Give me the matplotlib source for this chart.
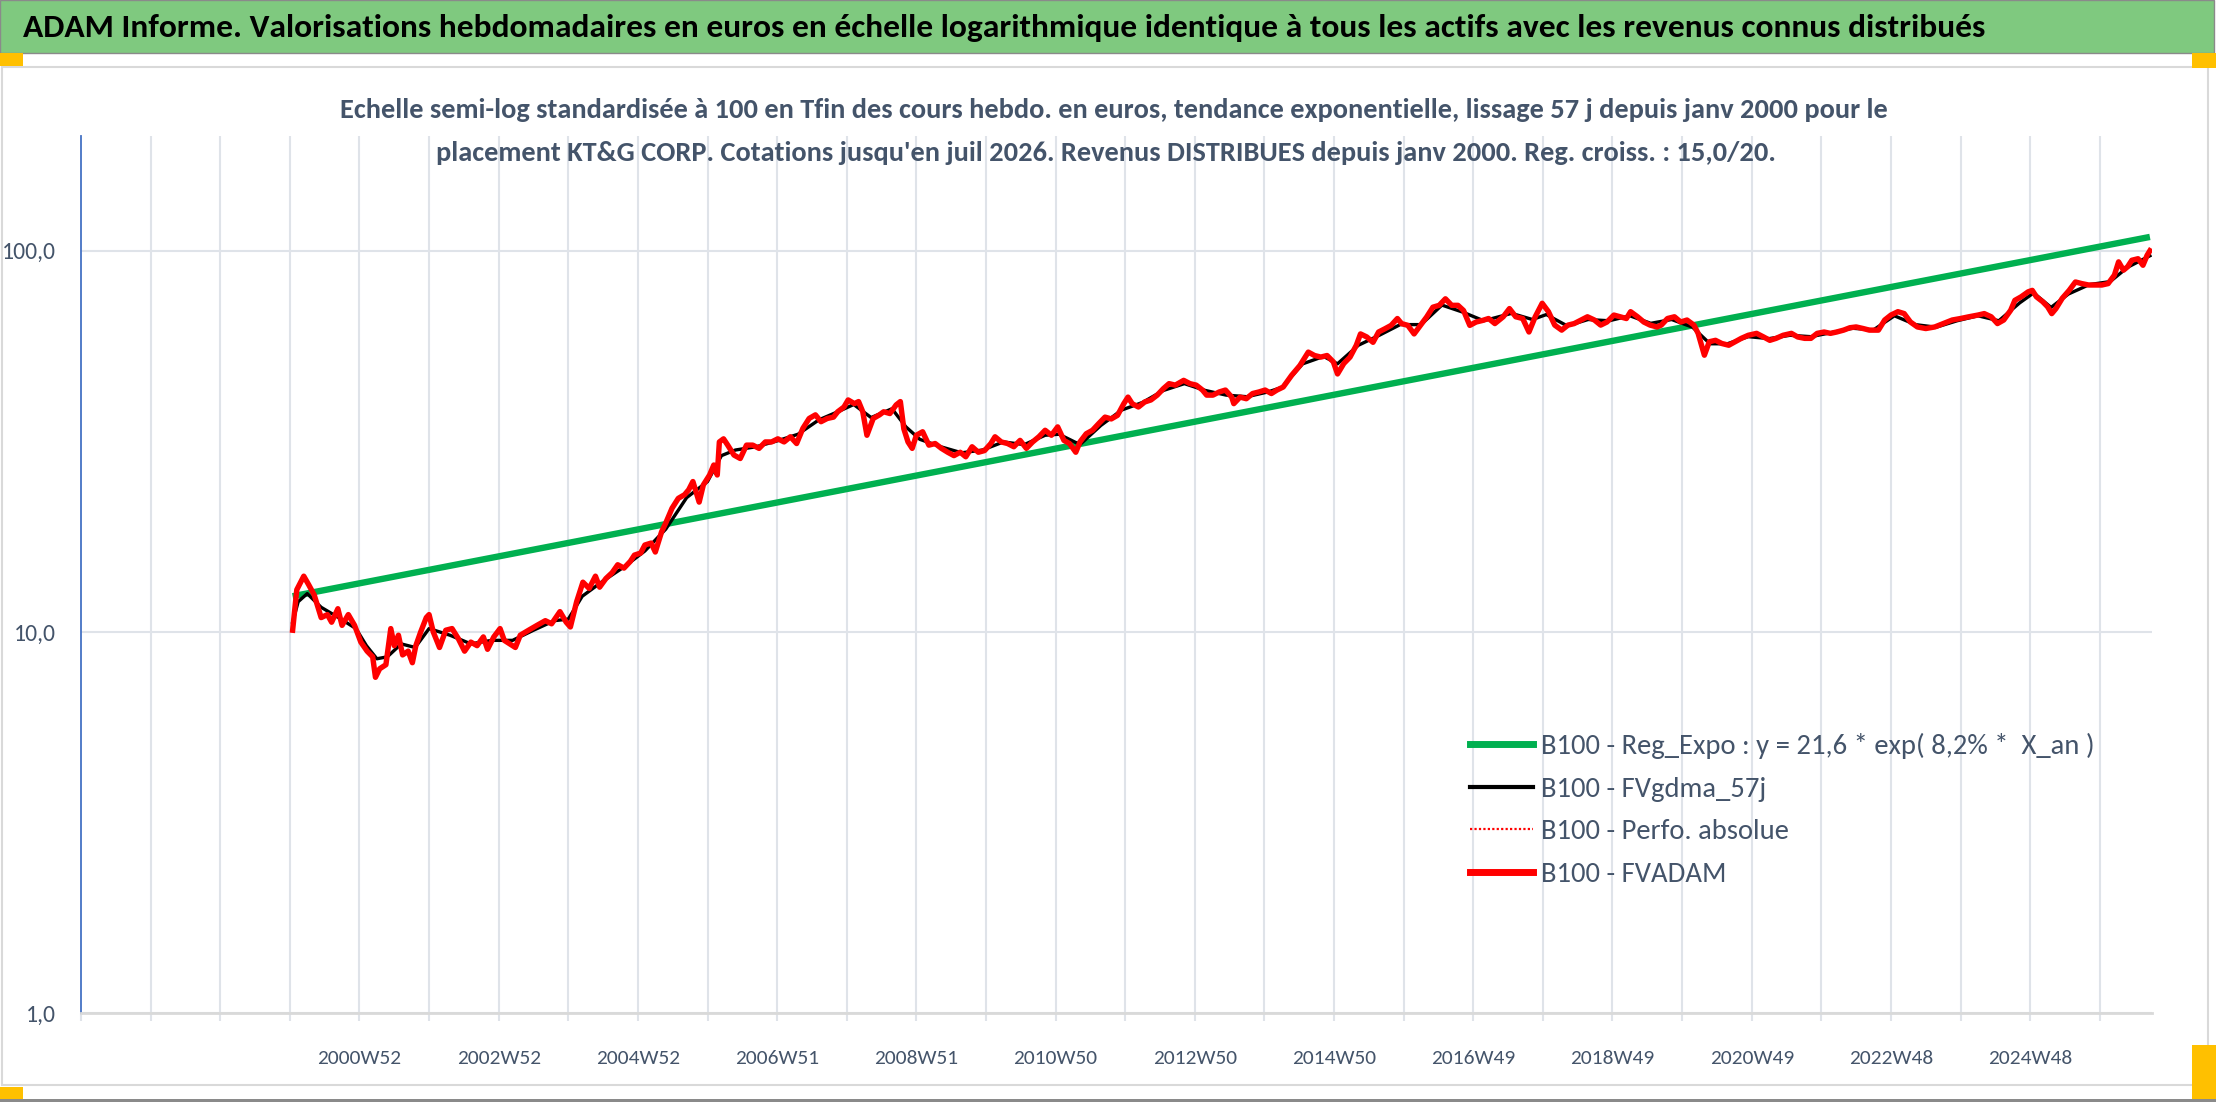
import matplotlib
matplotlib.use("Agg")
import matplotlib.pyplot as plt
from matplotlib.patches import Rectangle
from matplotlib.lines import Line2D
from matplotlib.ticker import NullLocator
from matplotlib import font_manager

_avail = {f.name for f in font_manager.fontManager.ttflist}
_pref = ['Carlito', 'Liberation Sans Narrow', 'Roboto Condensed', 'Open Sans Condensed', 'Lato', 'DejaVu Sans']
FONT = next(f for f in _pref if f in _avail or f == 'DejaVu Sans')
plt.rcParams['font.family'] = [FONT, 'DejaVu Sans']

# ---------------- data ----------------
title_text = ("ADAM Informe. Valorisations hebdomadaires en euros en échelle logarithmique "
              "identique à tous les actifs avec les revenus connus distribués")
subtitle_1 = ("Echelle semi-log standardisée à 100 en Tfin des cours hebdo. en euros, tendance "
              "exponentielle, lissage 57 j depuis janv 2000 pour le")
subtitle_2 = ("placement KT&G CORP. Cotations jusqu'en juil 2026. Revenus DISTRIBUES depuis "
              "janv 2000. Reg. croiss. : 15,0/20.")

legend_labels = ["B100 - Reg_Expo : y = 21,6 * exp( 8,2% *  X_an )",
                 "B100 - FVgdma_57j",
                 "B100 - Perfo. absolue",
                 "B100 - FVADAM"]

x_tick_pos = [2001, 2003, 2005, 2007, 2009, 2011, 2013, 2015, 2017, 2019, 2021, 2023, 2025]
x_tick_labels = ["2000W52", "2002W52", "2004W52", "2006W51", "2008W51", "2010W50",
                 "2012W50", "2014W50", "2016W49", "2018W49", "2020W49", "2022W48", "2024W48"]
y_ticks = [1, 10, 100]
y_tick_labels = ["1,0", "10,0", "100,0"]

# regression line (exponential trend) end points
reg_x = [2000.04, 2026.72]
reg_y = [12.4, 108.7]

# FVADAM (red)
red_x = [2000.04, 2000.10, 2000.20, 2000.27, 2000.35, 2000.41, 2000.45, 2000.54, 2000.60, 2000.69,
         2000.75, 2000.84, 2000.93, 2001.02, 2001.11, 2001.19, 2001.23, 2001.29, 2001.38, 2001.45,
         2001.50, 2001.56, 2001.62, 2001.70, 2001.76, 2001.81, 2001.88, 2001.96, 2002.00, 2002.06,
         2002.15, 2002.24, 2002.33, 2002.42, 2002.51, 2002.60, 2002.69, 2002.78, 2002.84, 2002.93,
         2003.02, 2003.08, 2003.16, 2003.24, 2003.31, 2003.43, 2003.55, 2003.67, 2003.76, 2003.88,
         2003.97, 2004.03, 2004.12, 2004.21, 2004.30, 2004.39, 2004.45, 2004.54, 2004.63, 2004.71,
         2004.80, 2004.89, 2004.95, 2005.04, 2005.10, 2005.19, 2005.25, 2005.34, 2005.40, 2005.49,
         2005.58, 2005.67, 2005.73, 2005.79, 2005.88, 2005.94, 2006.03, 2006.09, 2006.14, 2006.17,
         2006.23, 2006.29, 2006.38, 2006.47, 2006.56, 2006.65, 2006.74, 2006.83, 2006.92, 2007.01,
         2007.10, 2007.19, 2007.28, 2007.37, 2007.46, 2007.55, 2007.63, 2007.72, 2007.81, 2007.87,
         2007.96, 2008.02, 2008.11, 2008.17, 2008.23, 2008.29, 2008.38, 2008.47, 2008.53, 2008.62,
         2008.71, 2008.77,
         2008.82, 2008.88, 2008.94, 2009.00, 2009.09, 2009.18, 2009.27, 2009.36, 2009.45, 2009.54,
         2009.63, 2009.71, 2009.80, 2009.89, 2009.98, 2010.07, 2010.13, 2010.22, 2010.31, 2010.40,
         2010.49, 2010.58, 2010.67, 2010.76, 2010.85, 2010.94, 2011.03, 2011.12, 2011.20, 2011.29,
         2011.35, 2011.44, 2011.53, 2011.62, 2011.71, 2011.80, 2011.89, 2011.98, 2012.04, 2012.10,
         2012.19, 2012.28, 2012.37, 2012.46, 2012.55, 2012.63, 2012.72, 2012.84, 2012.93, 2013.02,
         2013.11, 2013.17, 2013.26, 2013.35, 2013.44, 2013.53, 2013.56, 2013.65, 2013.74, 2013.83,
         2013.92, 2014.01, 2014.10, 2014.18, 2014.27, 2014.39, 2014.51, 2014.63, 2014.72, 2014.81,
         2014.90, 2014.99, 2015.05, 2015.14, 2015.23, 2015.32, 2015.38, 2015.47, 2015.56, 2015.64,
         2015.73, 2015.82, 2015.91, 2015.97, 2016.06, 2016.15, 2016.24, 2016.33, 2016.42, 2016.51,
         2016.60, 2016.69, 2016.78, 2016.86, 2016.95, 2017.04, 2017.13, 2017.22, 2017.31,
         2017.43, 2017.52, 2017.61, 2017.71, 2017.80, 2017.89, 2017.99, 2018.08, 2018.17, 2018.27,
         2018.36, 2018.45, 2018.55, 2018.64, 2018.74, 2018.83, 2018.92, 2019.02, 2019.11, 2019.20,
         2019.26, 2019.36, 2019.45, 2019.54, 2019.64, 2019.70, 2019.79, 2019.89, 2019.98, 2020.07,
         2020.17, 2020.23, 2020.29, 2020.32, 2020.39, 2020.48, 2020.57, 2020.67, 2020.76, 2020.85,
         2020.95, 2021.07, 2021.17, 2021.26, 2021.35, 2021.45, 2021.57, 2021.66, 2021.76, 2021.85,
         2021.94, 2022.04, 2022.13, 2022.22, 2022.32, 2022.41, 2022.50, 2022.60, 2022.69, 2022.82,
         2022.91, 2023.00, 2023.10, 2023.19, 2023.28, 2023.38, 2023.50, 2023.63, 2023.75, 2023.88,
         2024.00, 2024.12, 2024.25, 2024.34, 2024.44, 2024.53, 2024.62, 2024.72, 2024.78, 2024.87,
         2024.97, 2025.03, 2025.09, 2025.18, 2025.25, 2025.31, 2025.37, 2025.46, 2025.56, 2025.65,
         2025.74, 2025.84, 2025.93, 2026.03, 2026.12, 2026.21, 2026.27, 2026.34, 2026.40, 2026.46,
         2026.55, 2026.62, 2026.68, 2026.72]
red_y = [10.1, 12.9, 14.0, 13.3, 12.5, 11.5, 10.9, 11.1, 10.6, 11.5,
         10.4, 11.1, 10.4, 9.4, 8.9, 8.6, 7.6, 8.0, 8.2, 10.2,
         9.2, 9.8, 8.7, 8.9, 8.3, 9.2, 10.0, 10.9, 11.1, 10.0,
         9.1, 10.1, 10.2, 9.6, 8.9, 9.4, 9.2, 9.7, 9.0, 9.7,
         10.2, 9.5, 9.3, 9.1, 9.8, 10.1, 10.4, 10.7, 10.5, 11.3,
         10.6, 10.3, 12.0, 13.5, 13.0, 14.0, 13.1, 13.8, 14.3, 15.0,
         14.7, 15.3, 15.9, 16.1, 16.9, 17.1, 16.2, 18.3, 19.3, 21.1,
         22.4, 22.9, 23.6, 24.8, 21.9, 24.3, 25.8, 27.4, 25.8, 31.5,
         32.1, 30.9, 29.1, 28.5, 30.9, 30.9, 30.3, 31.5, 31.5, 32.1,
         31.5, 32.5, 31.2, 34.2, 36.3, 37.1, 35.6, 36.3, 36.6, 37.8,
         38.9, 40.6, 39.7, 40.2, 37.8, 32.8, 36.3, 37.1, 37.8, 37.4,
         39.4, 40.2,
         34.1, 31.5, 30.3, 32.8, 33.5, 30.9, 31.2, 30.3, 29.6, 29.0,
         29.6, 28.8, 30.6, 29.6, 29.9, 31.2, 32.5, 31.5, 31.2, 30.6,
         31.8, 30.3, 31.5, 32.5, 33.8, 32.8, 34.5, 31.8, 31.2, 29.6,
         31.5, 33.1, 33.8, 35.2, 36.6, 36.2, 37.0, 39.7, 41.3, 39.7,
         38.9, 40.1, 40.6, 41.8, 43.5, 44.8, 44.4, 45.7, 44.8, 44.4,
         43.1, 41.8, 41.8, 42.6, 43.1, 41.3, 39.7, 41.3, 40.9, 42.2,
         42.6, 43.1, 42.2, 43.1, 43.9, 47.1, 50.0, 54.2, 53.1, 52.6,
         53.1, 51.1, 47.5, 50.6, 52.6, 56.5, 60.5, 59.4, 57.5, 61.2,
         62.4, 63.7, 66.4, 64.4, 63.7, 60.5, 63.7, 67.0, 71.1, 71.9,
         74.8, 71.9, 71.9, 69.7, 63.7, 65.0, 65.6, 66.4, 64.4,
         67.1, 70.5, 67.1, 66.4, 61.2, 67.1, 72.8, 69.2, 63.8, 61.9,
         63.8, 64.4, 65.8, 67.1, 65.8, 63.8, 65.0, 67.8, 67.1, 66.4,
         69.2, 67.1, 65.0, 63.8, 63.1, 63.8, 66.4, 67.1, 65.0, 65.8,
         63.8, 60.7, 55.5, 53.2, 57.7, 58.2, 57.1, 56.5, 57.7, 58.9,
         60.0, 60.7, 59.4, 58.2, 58.9, 60.0, 60.7, 59.4, 58.9, 58.9,
         60.7, 61.2, 60.7, 61.2, 61.9, 62.8, 63.1, 62.5, 61.9, 61.9,
         65.8, 67.8, 69.2, 68.4, 65.0, 63.1, 62.5, 63.1, 64.4, 65.8,
         66.4, 67.1, 67.8, 68.4, 67.1, 64.4, 65.8, 69.8, 74.1, 75.7,
         78.0, 78.7, 75.7, 73.5, 71.3, 68.4, 70.5, 75.0, 78.7, 82.8,
         82.0, 81.3, 81.3, 81.3, 82.0, 86.3, 93.5, 88.9, 90.8, 94.4,
         95.3, 91.6, 97.3, 100.0]

# FVgdma_57j (black, smoothed)
blk_x = [2000.04, 2000.12, 2000.25, 2000.45, 2000.70, 2000.95, 2001.10, 2001.25, 2001.40, 2001.60,
         2001.80, 2002.00, 2002.30, 2002.60, 2002.90, 2003.20, 2003.50, 2003.80, 2004.00, 2004.20,
         2004.50, 2004.80, 2005.10, 2005.40, 2005.70, 2006.00, 2006.20, 2006.40, 2006.70, 2007.00,
         2007.30, 2007.60, 2007.90, 2008.10, 2008.35, 2008.65, 2008.85, 2009.05, 2009.35, 2009.65,
         2009.95, 2010.25, 2010.55, 2010.85, 2011.05, 2011.35, 2011.65, 2011.95, 2012.25, 2012.55,
         2012.85, 2013.15, 2013.45, 2013.75, 2014.05, 2014.25, 2014.55, 2014.85, 2015.05, 2015.35,
         2015.65, 2015.95, 2016.25, 2016.55, 2016.85, 2017.15, 2017.55, 2017.85, 2018.05, 2018.35,
         2018.65, 2018.95, 2019.25, 2019.55, 2019.85, 2020.15, 2020.40, 2020.65, 2020.95, 2021.25,
         2021.55, 2021.85, 2022.15, 2022.45, 2022.75, 2023.05, 2023.35, 2023.65, 2023.95, 2024.25,
         2024.55, 2024.85, 2025.05, 2025.30, 2025.55, 2025.85, 2026.15, 2026.40, 2026.72]
blk_y = [10.6, 12.0, 12.6, 11.6, 10.9, 10.2, 9.2, 8.5, 8.6, 9.3,
         9.1, 10.2, 9.8, 9.3, 9.5, 9.5, 10.1, 10.7, 10.8, 12.4,
         13.6, 14.8, 16.3, 18.6, 22.5, 24.8, 29.0, 30.0, 30.6, 31.7,
         33.0, 36.0, 38.0, 39.5, 36.5, 38.5, 34.5, 32.0, 30.6, 29.5,
         30.0, 31.5, 31.0, 32.8, 33.0, 31.0, 34.8, 38.2, 40.0, 43.0,
         44.8, 43.0, 41.8, 41.4, 42.6, 43.8, 50.5, 52.8, 50.5, 56.5,
         60.0, 64.0, 64.0, 72.0, 69.0, 65.5, 68.5, 66.0, 68.0, 63.5,
         66.0, 65.5, 67.5, 64.5, 66.0, 63.0, 57.0, 57.0, 59.5, 58.8,
         60.0, 59.5, 61.0, 62.6, 62.0, 67.5, 64.0, 63.0, 65.5, 67.5,
         65.5, 73.0, 77.5, 71.0, 77.0, 81.5, 83.0, 90.5, 97.0]

# ---------------- figure ----------------
W, H = 2216, 1102
fig = plt.figure(figsize=(W / 100, H / 100), dpi=100, facecolor='white')
renderer = fig.canvas.get_renderer()
TXT = '#44546A'
GRID = '#DFE3E9'


def fx(x):
    return x / W


def fy(y):
    return 1 - y / H


def rect(x0, y0, x1, y1, **kw):
    fig.add_artist(Rectangle((fx(x0), fy(y1)), (x1 - x0) / W, (y1 - y0) / H,
                             transform=fig.transFigure, zorder=-10, **kw))


def fit(s, target, weight='normal', base=20.0):
    t = fig.text(0, 0, s, fontsize=base, fontweight=weight)
    w = t.get_window_extent(renderer).width
    t.remove()
    return base * target / w


# frame elements
rect(0, 0, 2214, 53, facecolor='#7FC97F', edgecolor='#8A8A8A', lw=1.0)
rect(2, 67, 2208, 1085, facecolor='none', edgecolor='#D9D9D9', lw=1.5)
for (a, b, c, d) in [(0, 53, 23, 66), (2192, 53, 2216, 68), (0, 1087, 23, 1100), (2192, 1045, 2216, 1102)]:
    rect(a, b, c, d, facecolor='#FFC000', edgecolor='none')
rect(0, 1099, 2216, 1102, facecolor='#8A8A8A', edgecolor='none')

# titles
fs_t = fit(title_text, 1964, 'bold')
fig.text(fx(23), fy(28), title_text, fontsize=fs_t, fontweight='bold', color='black',
         ha='left', va='center')
fs_s = fit(subtitle_1, 1552, 'bold')
fig.text(fx(1114), fy(110), subtitle_1, fontsize=fs_s, fontweight='bold', color=TXT,
         ha='center', va='center')
fig.text(fx(1106), fy(153), subtitle_2, fontsize=fs_s, fontweight='bold', color=TXT,
         ha='center', va='center')

# axes
ax = fig.add_axes([fx(81), fy(1013), (2152 - 81) / W, (1013 - 136) / H])
ax.patch.set_alpha(0)
ax.set_yscale('log')
ax.set_ylim(1, 200)
ax.set_xlim(1997, 2026.75)

ax.plot(reg_x, reg_y, color='#00B050', lw=4.6, solid_capstyle='butt', zorder=3)
ax.plot(blk_x, blk_y, color='black', lw=2.4, zorder=4)
ax.plot(red_x, red_y, color='#FF0000', lw=3.9, zorder=5, solid_joinstyle='round')

# grid
years = list(range(1997, 2027))
for yv in years[1:]:
    ax.axvline(yv, color=GRID, lw=1.5, zorder=1)
for yv in y_ticks:
    ax.axhline(yv, color=GRID, lw=1.5, zorder=1)

fs_x = fit(x_tick_labels[0], 84)
ax.set_xticks(years)
ax.set_xticklabels([x_tick_labels[x_tick_pos.index(y)] if y in x_tick_pos else '' for y in years],
                   fontsize=fs_x, color=TXT)
ax.xaxis.set_minor_locator(NullLocator())
ax.tick_params(axis='x', direction='out', length=6, width=1.5, color=GRID, pad=21)

ax.set_yticks(y_ticks)
fs_y = fit(y_tick_labels[2], 54)
ax.set_yticklabels(y_tick_labels, fontsize=fs_y, color=TXT)
ax.yaxis.set_minor_locator(NullLocator())
ax.tick_params(axis='y', which='both', length=0, pad=18)

for s in ['top', 'right']:
    ax.spines[s].set_visible(False)
ax.spines['left'].set_color('#4472C4')
ax.spines['left'].set_linewidth(1.3)
ax.spines['bottom'].set_color('#D9D9D9')
ax.spines['bottom'].set_linewidth(2.0)

# legend
fs_l = fit(legend_labels[0], 554)
fpx = fs_l * 100 / 72
handles = [Line2D([], [], color='#00B050', lw=5),
           Line2D([], [], color='black', lw=3),
           Line2D([], [], color='#FF0000', lw=1.6, ls=(0, (1, 1))),
           Line2D([], [], color='#FF0000', lw=5)]
leg = ax.legend(handles, legend_labels, loc='upper left',
                bbox_to_anchor=(fx(1470), fy(733)), bbox_transform=fig.transFigure,
                frameon=False, borderpad=0, borderaxespad=0, fontsize=fs_l,
                handlelength=63 / fpx, handletextpad=8 / fpx,
                labelspacing=max(0.2, (52 - 1.2 * fpx) / fpx))
for t in leg.get_texts():
    t.set_color(TXT)

fig.savefig('out.png', dpi=100, facecolor='white')
